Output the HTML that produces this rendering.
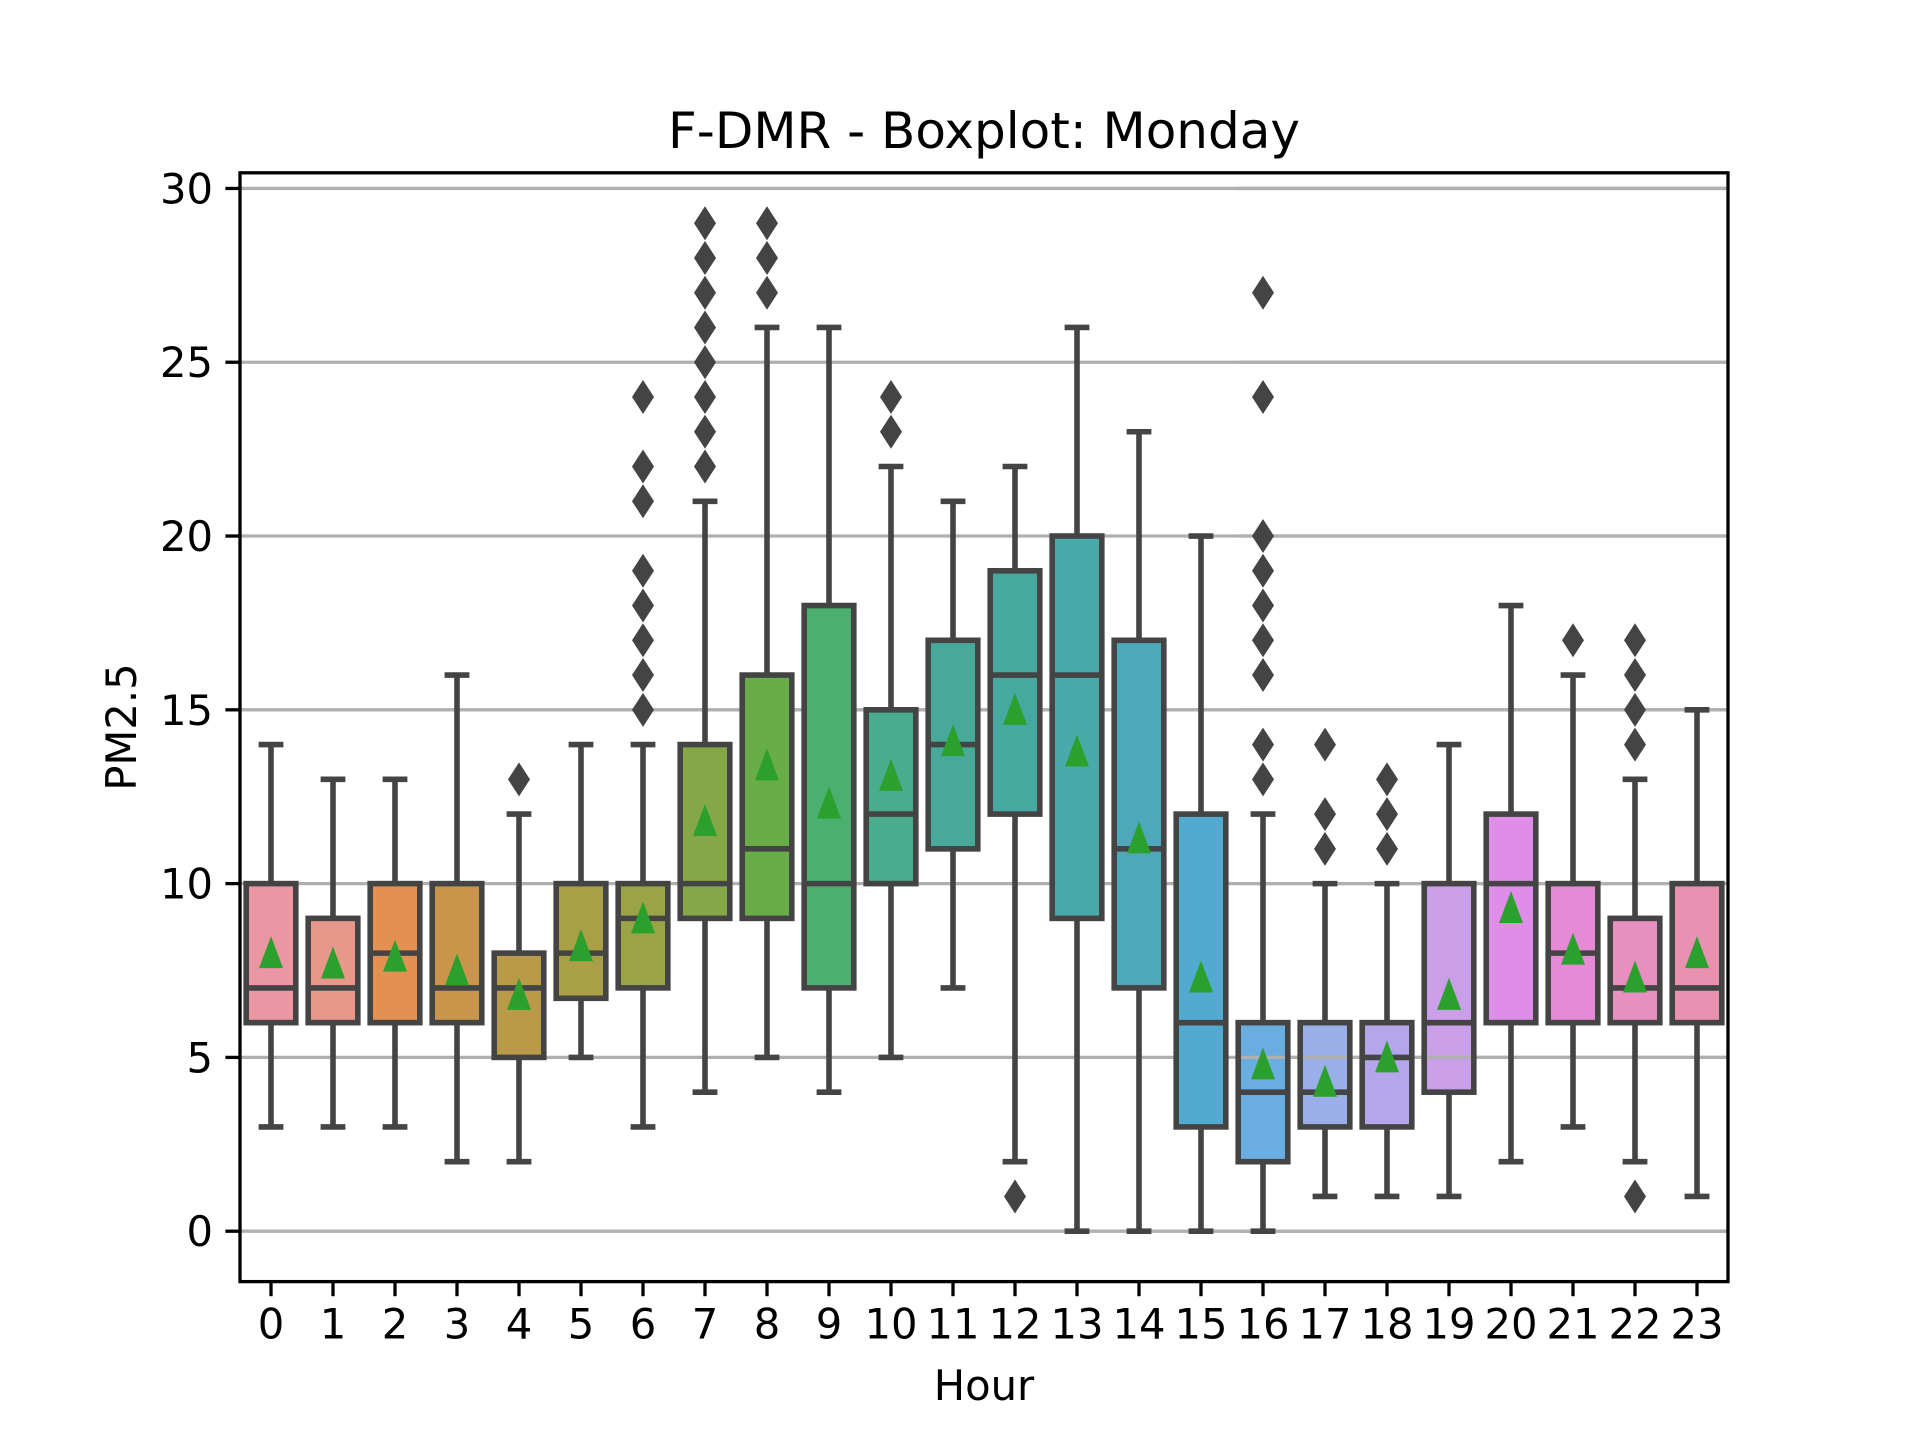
<!DOCTYPE html>
<html><head><meta charset="utf-8"><style>
html,body{margin:0;padding:0;background:#fff;}
svg{display:block;font-family:"DejaVu Sans","Liberation Sans",sans-serif;}
</style></head><body>
<svg id="chart" width="1920" height="1440" viewBox="0 0 1920 1440" xmlns="http://www.w3.org/2000/svg">
<rect width="1920" height="1440" fill="#fff"/>
<text x="984" y="148" font-size="50" text-anchor="middle">F-DMR - Boxplot: Monday</text>
<g id="plot"></g>
<text x="984" y="1400" font-size="41.7" text-anchor="middle">Hour</text>
<text transform="translate(136,727) rotate(-90)" font-size="41.7" text-anchor="middle">PM2.5</text>
</svg>
<script>
const hours = ["0","1","2","3","4","5","6","7","8","9","10","11","12","13","14","15","16","17","18","19","20","21","22","23"];
const q1 =     [6,6,6,6,5,6.7,7,9,9,7,10,11,12,9,7,3,2,3,3,4,6,6,6,6];
const median = [7,7,8,7,7,8,9,10,11,10,12,14,16,16,11,6,4,4,5,6,10,8,7,7];
const q3 =     [10,9,10,10,8,10,10,14,16,18,15,17,19,20,17,12,6,6,6,10,12,10,9,10];
const whiskLo =[3,3,3,2,2,5,3,4,5,4,5,7,2,0,0,0,0,1,1,1,2,3,2,1];
const whiskHi =[14,13,13,16,12,14,14,21,26,26,22,21,22,26,23,20,12,10,10,14,18,16,13,15];
const means =  [8.0,7.7,7.9,7.5,6.8,8.2,9.0,11.8,13.4,12.3,13.1,14.1,15.0,13.8,11.3,7.3,4.8,4.3,5.0,6.8,9.3,8.1,7.3,8.0];
const outliers = [[],[],[],[],[13],[],[15,16,17,18,19,21,22,24],[22,23,24,25,26,27,28,29],[27,28,29],[],[23,24],[],[1],[],[],[],[13,14,16,17,18,19,20,24,27],[11,12,14],[11,12,13],[],[],[17],[1,14,15,16,17],[]];
const colors = ["#ea96a3","#e8988a","#e39053","#c9954a","#b89a48","#a99f47","#9aa346","#84a747","#68ad47","#4aaf6f","#4aab8d","#48a89a","#47a8a0","#4aaaaa","#4ea8b9","#52aad0","#6aaee1","#9aaee8","#b5a6ec","#cb9ee8","#de8ee8","#e68ad5","#e78fc1","#e891b0"];
const yTicks = [0,5,10,15,20,25,30];

const L=240,R=1728,T=172.8,B=1281.6;
const yMin=-1.45,yMax=30.45;
const sx=i=>L+(i+0.5)*(R-L)/hours.length;
const sy=v=>B-(v-yMin)/(yMax-yMin)*(B-T);
const bw=0.8*(R-L)/hours.length;
const NS="http://www.w3.org/2000/svg";
const plot=document.getElementById('plot');
function mk(tag,attrs,parent){const e=document.createElementNS(NS,tag);for(const k in attrs)e.setAttribute(k,attrs[k]);(parent||plot).appendChild(e);return e;}
const LC="#444444",LW=5.6;

// grid (under boxes)
yTicks.forEach(t=>{
  const g=mk('line',{x1:L,x2:R,y1:sy(t),y2:sy(t),stroke:"#b0b0b0","stroke-width":3.3});
  
  
});
// box fills
hours.forEach((h,i)=>{
  const r=mk('rect',{x:sx(i)-bw/2,y:sy(q3[i]),width:bw,height:sy(q1[i])-sy(q3[i]),fill:colors[i]});
  
  
});
// grid segments visible over later boxes
const x16=sx(16)-bw/2;
yTicks.forEach(t=>{
  const g=mk('line',{x1:x16,x2:R,y1:sy(t),y2:sy(t),stroke:"#b0b0b0","stroke-width":3.3});
  
  
});
// box edges, whiskers, medians
hours.forEach((h,i)=>{
  const x=sx(i),g=mk('g',{});
  
  
  mk('rect',{x:x-bw/2,y:sy(q3[i]),width:bw,height:sy(q1[i])-sy(q3[i]),fill:"none",stroke:LC,"stroke-width":LW},g);
  mk('line',{x1:x,x2:x,y1:sy(q1[i]),y2:sy(whiskLo[i]),stroke:LC,"stroke-width":LW},g);
  mk('line',{x1:x,x2:x,y1:sy(q3[i]),y2:sy(whiskHi[i]),stroke:LC,"stroke-width":LW},g);
  mk('line',{x1:x-bw/4,x2:x+bw/4,y1:sy(whiskLo[i]),y2:sy(whiskLo[i]),stroke:LC,"stroke-width":LW},g);
  mk('line',{x1:x-bw/4,x2:x+bw/4,y1:sy(whiskHi[i]),y2:sy(whiskHi[i]),stroke:LC,"stroke-width":LW},g);
  mk('line',{x1:x-bw/2,x2:x+bw/2,y1:sy(median[i]),y2:sy(median[i]),stroke:LC,"stroke-width":LW},g);
  outliers[i].forEach(v=>{
    const y=sy(v);
    const d=mk('polygon',{points:`${x},${y-17} ${x+11},${y} ${x},${y+17} ${x-11},${y}`,fill:LC});
    
    
  });
  const my=sy(means[i]);
  const tri=mk('polygon',{points:`${x},${my-17} ${x+12},${my+15} ${x-12},${my+15}`,fill:"#2ca02c"});
  
  
});
// spines
const sp=mk('rect',{x:L,y:T,width:R-L,height:B-T,fill:"none",stroke:"#000","stroke-width":3.3});


// y ticks
yTicks.forEach(t=>{
  const y=sy(t);
  const tk=mk('line',{x1:L-14.6,x2:L,y1:y,y2:y,stroke:"#000","stroke-width":3.3});
  
  
  const lb=mk('text',{x:L-27,y:y+15,"font-size":41.7,"text-anchor":"end"});
  lb.textContent=t;
  
  
});
// x ticks
hours.forEach((h,i)=>{
  const x=sx(i);
  const tk=mk('line',{x1:x,x2:x,y1:B,y2:B+14.6,stroke:"#000","stroke-width":3.3});
  
  
  const lb=mk('text',{x:x,y:B+57,"font-size":41.7,"text-anchor":"middle"});
  lb.textContent=h;
  
  
});
</script>
</body></html>
